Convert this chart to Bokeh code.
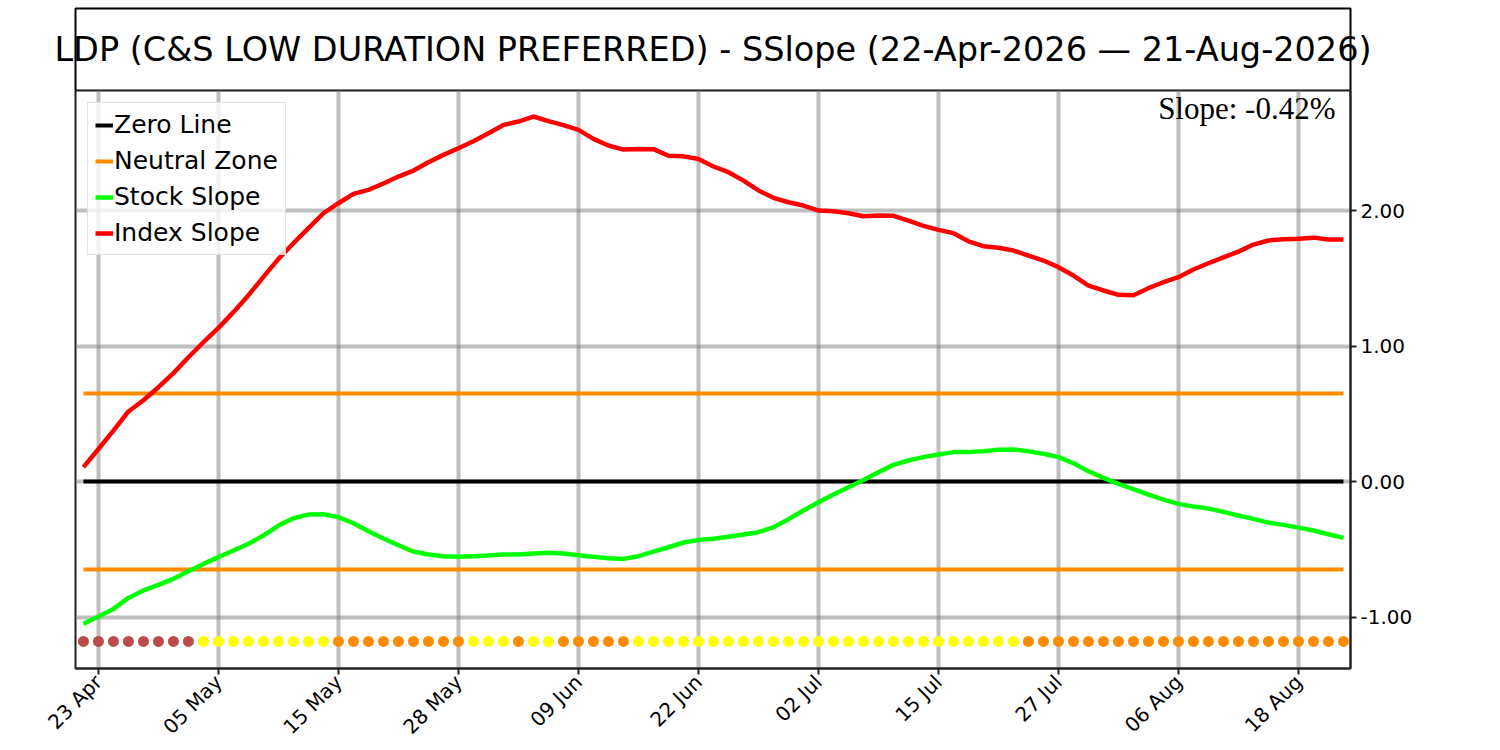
import math
from bokeh.plotting import figure
from bokeh.layouts import column, row
from bokeh.models import (Label, Legend, LegendItem, FixedTicker, PrintfTickFormatter,
                          Range1d, ColumnDataSource, BoxAnnotation)
from bokeh.embed import file_html
from bokeh.resources import INLINE

title_text = "LDP (C&S LOW DURATION PREFERRED) - SSlope (22-Apr-2026 \u2014 21-Aug-2026)"

# trading-day index 0 = 22 Apr 2026 ... 84 = 21 Aug 2026
tick_idx = [1, 9, 17, 25, 33, 41, 49, 57, 65, 73, 81]
tick_labels = ["23 Apr", "05 May", "15 May", "28 May", "09 Jun", "22 Jun",
               "02 Jul", "15 Jul", "27 Jul", "06 Aug", "18 Aug"]
ytick_vals = [-1.0, 0.0, 1.0, 2.0]

index_slope = [0.106, 0.24, 0.376, 0.517, 0.60, 0.696, 0.80, 0.917, 1.028, 1.134,
               1.25, 1.375, 1.51, 1.643, 1.759, 1.87, 1.98, 2.054, 2.123, 2.153,
               2.20, 2.251, 2.295, 2.357, 2.411, 2.46, 2.511, 2.57, 2.632, 2.657,
               2.694, 2.66, 2.63, 2.595, 2.529, 2.48, 2.45, 2.455, 2.453, 2.404,
               2.40, 2.381, 2.325, 2.283, 2.221, 2.148, 2.094, 2.061, 2.037, 2.0,
               1.995, 1.98, 1.958, 1.963, 1.961, 1.926, 1.887, 1.857, 1.833, 1.773,
               1.737, 1.725, 1.705, 1.668, 1.631, 1.582, 1.52, 1.446, 1.41, 1.378,
               1.375, 1.427, 1.471, 1.508, 1.565, 1.611, 1.655, 1.697, 1.749, 1.779,
               1.788, 1.791, 1.80, 1.786, 1.786]

stock_slope = [-1.05, -0.996, -0.94, -0.859, -0.804, -0.763, -0.718, -0.662, -0.608, -0.558,
               -0.509, -0.46, -0.399, -0.325, -0.271, -0.244, -0.241, -0.263, -0.308, -0.367,
               -0.421, -0.47, -0.517, -0.539, -0.551, -0.556, -0.551, -0.546, -0.539, -0.539,
               -0.531, -0.526, -0.531, -0.544, -0.556, -0.566, -0.571, -0.551, -0.517, -0.485,
               -0.45, -0.431, -0.423, -0.408, -0.391, -0.374, -0.337, -0.278, -0.214, -0.153,
               -0.096, -0.042, 0.012, 0.069, 0.123, 0.155, 0.18, 0.2, 0.217, 0.217,
               0.224, 0.234, 0.237, 0.223, 0.205, 0.18, 0.135, 0.076, 0.027, -0.017,
               -0.057, -0.096, -0.133, -0.165, -0.185, -0.199, -0.224, -0.251, -0.276, -0.303,
               -0.32, -0.34, -0.362, -0.389, -0.416]

# signal state per day: B = weak (brown), Y = yellow, O = orange
signal_state = ["B", "B", "B", "B", "B", "B", "B", "B",
                "Y", "Y", "Y", "Y", "Y", "Y", "Y", "Y", "Y",
                "O", "O", "O", "O", "O", "O", "O", "O", "O",
                "Y", "Y", "Y", "O", "Y", "Y",
                "O", "O", "O", "O", "O",
                "Y", "Y", "Y", "Y", "Y", "Y", "Y", "Y", "Y", "Y", "Y", "Y", "Y",
                "Y", "Y", "Y", "Y", "Y", "Y", "Y", "Y", "Y", "Y", "Y", "Y", "Y",
                "O", "O", "O", "O", "O", "O", "O", "O", "O", "O", "O",
                "O", "O", "O", "O", "O", "O", "O", "O", "O", "O", "O"]
state_colors = {"B": "#BC4A4A", "Y": "#FFFF00", "O": "#FF8C00"}

neutral_level = 0.65
signal_level = -1.18

idx = list(range(len(index_slope)))
x_start, x_end = -0.53, 84.47
y_start, y_end = -1.38, 2.886

# ---------- title box (separate strip above the plot) ----------
FRAME_W = 1275
top = figure(frame_width=1400, frame_height=90,
             x_range=Range1d(-55 / FRAME_W, 1345 / FRAME_W), y_range=Range1d(0, 90 / 82),
             x_axis_location=None, y_axis_location=None, toolbar_location=None,
             output_backend="svg", min_border_left=20, min_border_right=0,
             min_border_top=0, min_border_bottom=0)
top.grid.visible = False
top.outline_line_color = None
top.add_layout(BoxAnnotation(left=0, right=1, bottom=0, top=1, fill_alpha=0,
                             line_color="black", line_alpha=1.0, line_width=2))
top.add_layout(Label(x=0.5, y=0.5, text=title_text, text_align="center",
                     text_baseline="middle", text_font="DejaVu Sans",
                     text_font_size="33.5px", text_color="black"))

# ---------- main plot ----------
p = figure(frame_width=FRAME_W, frame_height=578, x_range=Range1d(x_start, x_end),
           y_range=Range1d(y_start, y_end), y_axis_location="right",
           toolbar_location=None, output_backend="svg", min_border_left=75,
           min_border_top=0, min_border_bottom=0, min_border_right=10)
p.outline_line_color = "#222222"
p.outline_line_width = 2

p.xaxis.ticker = FixedTicker(ticks=tick_idx)
p.xaxis.major_label_overrides = {t: l for t, l in zip(tick_idx, tick_labels)}
p.xaxis.major_label_orientation = math.pi / 4
p.yaxis.ticker = FixedTicker(ticks=ytick_vals)
p.yaxis.formatter = PrintfTickFormatter(format="%.2f")
for ax in (p.xaxis[0], p.yaxis[0]):
    ax.minor_tick_line_color = None
    ax.major_tick_out = 6
    ax.major_tick_in = 0
    ax.major_tick_line_width = 2
    ax.major_tick_line_color = "#222222"
    ax.axis_line_color = "#222222"
    ax.axis_line_width = 2
    ax.major_label_text_font = "DejaVu Sans"
    ax.major_label_text_font_size = "20px"
    ax.major_label_text_color = "black"
    ax.major_label_standoff = 4

p.xgrid.ticker = FixedTicker(ticks=tick_idx)
p.ygrid.ticker = FixedTicker(ticks=ytick_vals)
p.grid.grid_line_color = "gray"
p.grid.grid_line_alpha = 0.5
p.grid.grid_line_width = 4

xs_span = [idx[0], idx[-1]]
r_zero = p.line(xs_span, [0, 0], line_color="black", line_width=4)
r_nu = p.line(xs_span, [neutral_level, neutral_level], line_color="#FF8C00", line_width=4)
p.line(xs_span, [-neutral_level, -neutral_level], line_color="#FF8C00", line_width=4)
r_stock = p.line(idx, stock_slope, line_color="#00FF00", line_width=4.5)
r_index = p.line(idx, index_slope, line_color="#FF0000", line_width=4.5)

dots = ColumnDataSource(dict(x=idx, y=[signal_level] * len(idx),
                             c=[state_colors[s] for s in signal_state]))
p.scatter("x", "y", source=dots, size=11, fill_color="c", line_color=None)

legend = Legend(items=[LegendItem(label="Zero Line", renderers=[r_zero]),
                       LegendItem(label="Neutral Zone", renderers=[r_nu]),
                       LegendItem(label="Stock Slope", renderers=[r_stock]),
                       LegendItem(label="Index Slope", renderers=[r_index])],
                location="top_left")
legend.label_text_font = "DejaVu Sans"
legend.label_text_font_size = "25px"
legend.label_text_color = "black"
legend.glyph_width = 18
legend.label_standoff = 1
legend.spacing = 7
legend.padding = 7
legend.margin = 12
legend.border_line_color = "#cccccc"
legend.border_line_width = 1.5
legend.background_fill_alpha = 0.8
p.add_layout(legend)

p.add_layout(Label(x=x_end, y=y_end, x_offset=-15, y_offset=0,
                   text=f"Slope: {stock_slope[-1]:.2f}%", text_align="right",
                   text_baseline="top", text_font="Liberation Serif",
                   text_font_size="31px", text_color="black"))

layout = column(row(top), p, spacing=0)
open("out.html", "w").write(file_html(layout, INLINE))
